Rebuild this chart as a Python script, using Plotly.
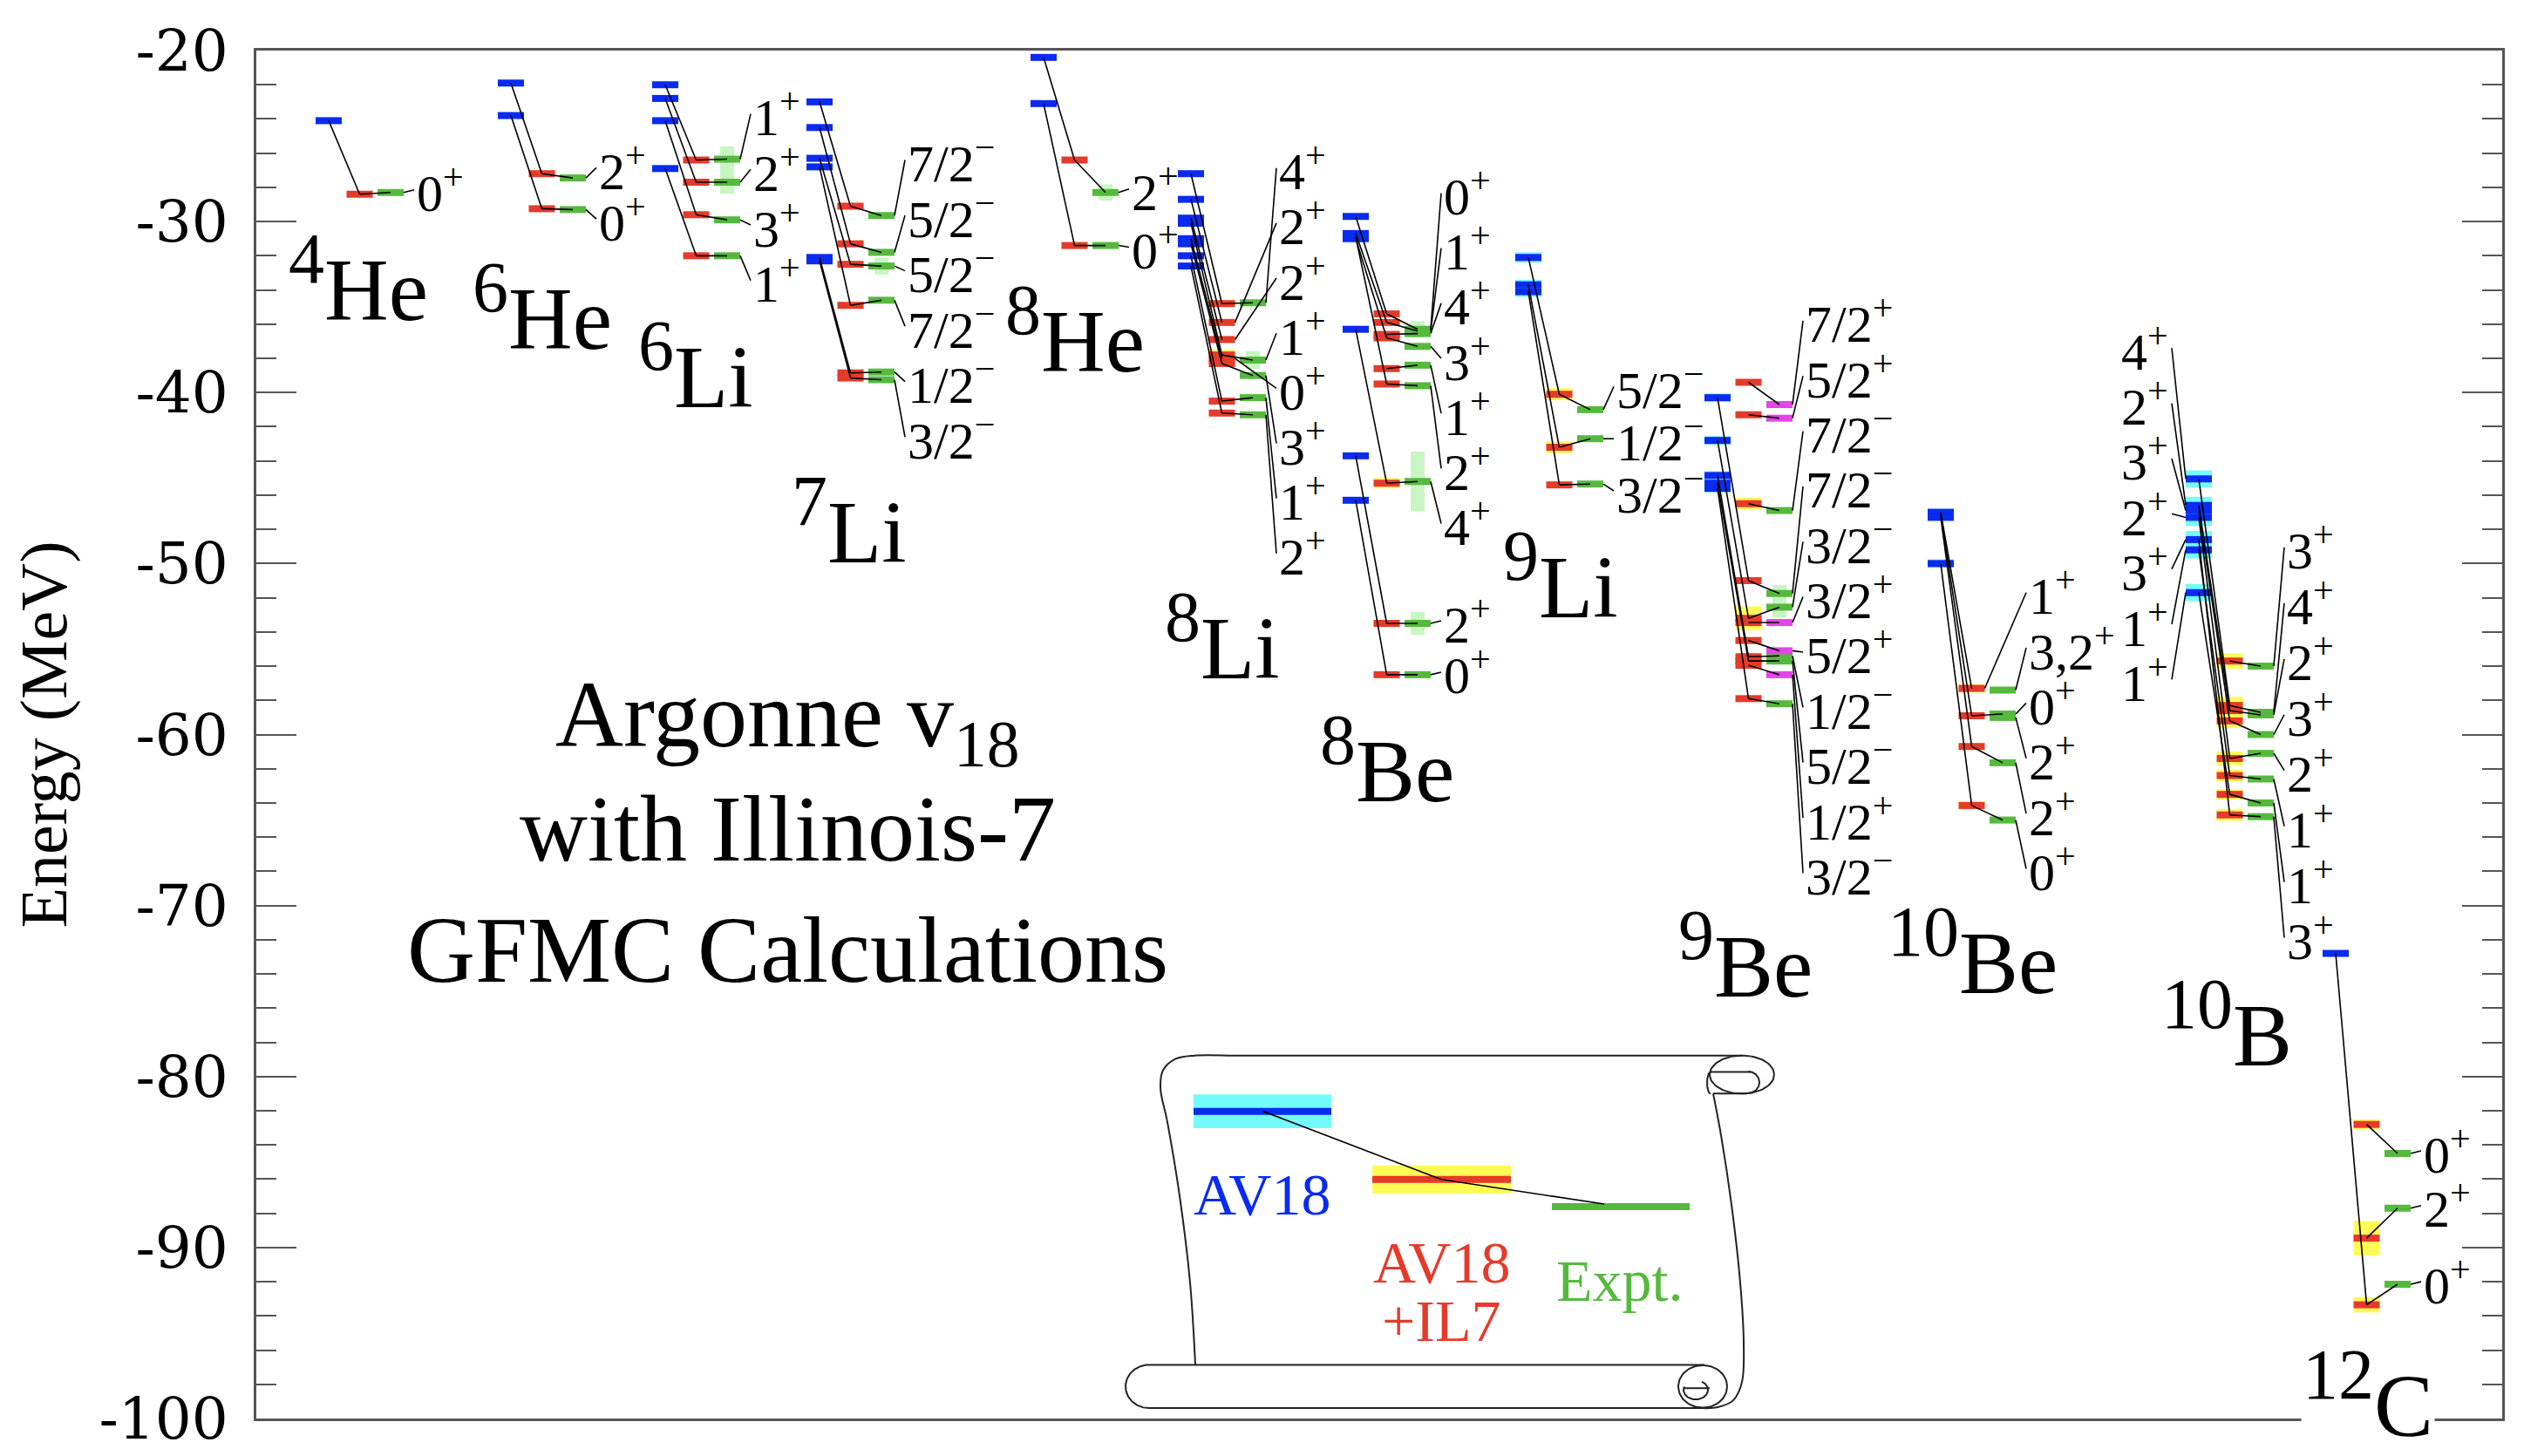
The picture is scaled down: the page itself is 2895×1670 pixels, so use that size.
import plotly.graph_objects as go
import numpy as np

N = None

# ---------------- data ----------------
mass_numbers = ["4", "6", "6", "7", "8", "8", "8", "9", "9", "10", "10", "12"]
elements = ["He", "He", "Li", "Li", "He", "Li", "Be", "Li", "Be", "Be", "B", "C"]

spins = [
    ["0+"],
    ["2+", "0+"],
    ["1+", "2+", "3+", "1+"],
    ["7/2-", "5/2-", "5/2-", "7/2-", "1/2-", "3/2-"],
    ["2+", "0+"],
    ["4+", "2+", "2+", "1+", "0+", "3+", "1+", "2+"],
    ["0+", "1+", "4+", "3+", "1+", "2+", "4+", "2+", "0+"],
    ["5/2-", "1/2-", "3/2-"],
    ["7/2+", "5/2+", "7/2-", "7/2-", "3/2-", "3/2+", "5/2+", "1/2-", "5/2-", "1/2+", "3/2-"],
    ["1+", "3,2+", "0+", "2+", "2+", "0+"],
    ["3+", "4+", "2+", "3+", "2+", "1+", "1+", "3+"],
    ["0+", "2+", "0+"],
]

av18 = [
    [-24.1],
    [-21.9, -23.8],
    [-22.0, -22.8, -24.1, -26.9],
    [-23.0, -24.5, -26.3, -26.8, -32.1, -32.3],
    [-20.4, -23.1],
    [-27.2, -28.7, -29.8, -30.1, -31.0, -31.3, -32.0, -32.6],
    [-29.7, -30.7, N, -31.0, N, -30.9, -36.3, -43.7, -46.3],
    [-32.1, -33.7, -34.1],
    [N, N, N, -40.3, -42.8, N, N, -44.85, -45.3, N, -45.6],
    [-47.0, N, -47.15, N, -47.3, -50.0],
    [N, -45.05, -46.6, -46.9, -47.3, -49.2, -51.7, -48.6],
    [N, N, -72.8],
]
av18_err = [
    [0],
    [0, 0],
    [0, 0, 0, 0],
    [0, 0, 0, 0, 0, 0],
    [0, 0],
    [0.1] * 8,
    [0.1] * 9,
    [0.3, 0.3, 0.3],
    [0, 0, 0, 0.25, 0.25, 0, 0, 0.25, 0.25, 0, 0.25],
    [0.1, 0, 0.1, 0, 0.1, 0.25],
    [0, 0.5, 0.5, 0.5, 0.5, 0.5, 0.5, 0.5],
    [0, 0, 0.12],
]

il7 = [
    [-28.4],
    [-27.2, -29.25],
    [-26.4, -27.7, -29.6, -32.0],
    [-29.1, -31.3, -32.5, -34.9, -38.85, -39.15],
    [-26.4, -31.4],
    [-34.8, -35.9, -36.9, -37.8, -38.0, -38.3, -40.5, -41.2],
    [-35.4, -35.9, -36.6, -36.8, -38.6, -39.5, -45.3, -53.5, -56.5],
    [-40.1, -43.2, -45.4],
    [-39.4, -41.3, -46.5, -51.0, -53.2, -53.45, -54.5, -55.45, -55.7, -55.95, -57.9],
    [-57.3, N, -58.9, N, -60.7, -64.15],
    [-55.7, -58.3, -58.6, -59.2, -61.4, -62.4, -63.5, -64.7],
    [-82.8, -89.45, -93.35],
]
il7_err = [
    [0],
    [0, 0],
    [0, 0, 0, 0],
    [0, 0, 0, 0.2, 0, 0],
    [0.15, 0],
    [0.2, 0, 0, 0.3, 0.3, 0, 0, 0],
    [0.15, 0.15, 0, 0.2, 0, 0, 0.3, 0, 0],
    [0.35, 0.35, 0],
    [0, 0, 0.35, 0, 0.7, 0, 0, 0.2, 0.2, 0, 0],
    [0.25, 0, 0, 0, 0, 0.25],
    [0.45, 0.5, 0.5, 0.4, 0.4, 0.35, 0.3, 0.35],
    [0.3, 1.0, 0.45],
]

expt = [
    [-28.3],
    [-27.45, -29.3],
    [-26.35, -27.7, -29.9, -32.0],
    [-29.65, -31.8, -32.6, -34.6, -38.8, -39.25],
    [-28.3, -31.4],
    [-34.75, N, N, -38.1, N, -39.0, -40.3, -41.3],
    [-36.3, -36.4, -36.55, -37.3, -38.4, -39.6, -45.2, -53.5, -56.5],
    [-41.0, -42.7, -45.35],
    [-40.7, -41.5, -46.9, -51.75, -52.55, -53.45, -55.1, -55.4, -55.7, -56.5, -58.2],
    [N, -57.4, -58.8, -59.0, -61.65, -65.0],
    [-56.0, -58.7, -58.85, -60.0, -61.1, -62.6, -64.0, -64.8],
    [-84.5, -87.7, -92.15],
]
expt_width = [
    [0],
    [0, 0],
    [1.5, 1.35, 0, 0],
    [0, 0, 1.0, 0, 0, 0],
    [0.95, 0],
    [0, 0, 0, 1.05, 0, 0, 0, 0],
    [0.95, 0, 0, 0, 0, 0, 3.5, 1.35, 0],
    [0, 0, 0],
    [0, 0, 0, 1.0, 1.2, 0, 0, 0, 0, 0, 0],
    [0, 0, 0, 0, 0, 0],
    [0, 0, 0, 0, 0, 0, 0, 0],
    [0, 0, 0],
]

y_ticks = [-100, -90, -80, -70, -60, -50, -40, -30, -20]
y_tick_text = ["-100", "-90", "-80", "-70", "-60", "-50", "-40", "-30", "-20"]

# ---------------- layout constants (pixels) ----------------
W, H = 2895, 1670
X0, X1 = 286, 2862
TOP, BOT = 48, 1627
BW = 30.0
RED_OFF, GRN_OFF = 35.5, 71.0
blue_left = [354, 563, 740, 917, 1174, 1343, 1532, 1730, 1947, 2203, 2499, 2656]
label_top = [N, -26.85, -23.7, -26.4, -28.1, -26.87, -28.34, -39.65, -35.8, -51.7, -49.06, N]
label_step = [0, 3.0, 3.25, 3.24, 3.4, 3.22, 3.22, 3.05, 3.23, 3.23, 3.26, 0]
label_stacked = [0, 2, 4, 6, 2, 8, 7, 3, 11, 6, 8, 0]
nuc_label_xy = [(403, 358), (614, 391), (790, 458), (966, 637), (1225, 417), (1394, 771),
                (1583, 913), (1782, 701), (1994, 1139), (2254, 1135), (2546, 1218), (2708, 1646)]

FONT = "Liberation Serif, Times New Roman, serif"
TICKFONT = "DejaVu Serif, serif"
BLUE, RED, GREEN, MAGENTA = "#0A2BF2", "#E63A2A", "#55B93D", "#E445E6"
CYAN, YELLOW, LTGREEN = "#74FBFB", "#FFFB55", "#C8F6C2"


def px2e(py):
    return -20.0 - (py - TOP) * 80.0 / (BOT - TOP)


def fmt_spin(s):
    if s.endswith("+"):
        return s[:-1] + "<sup>+</sup>"
    if s.endswith("-"):
        return s[:-1] + "<sup>\u2212</sup>"
    return s


fig = go.Figure()
shapes = []
annotations = []

bars = {"b": ([], []), "r": ([], []), "g": ([], []), "m": ([], [])}
conn_x, conn_y = [], []


def add_seg(store, xa, xb, ya, yb):
    store[0].extend([xa, xb, None])
    store[1].extend([ya, yb, None])


def band(xa, xb, ya, yb, color):
    shapes.append(dict(type="rect", xref="x", yref="y", x0=xa, x1=xb, y0=ya, y1=yb,
                       fillcolor=color, line=dict(width=0), layer="below"))


for k in range(len(spins)):
    xb = blue_left[k]
    xr = xb + RED_OFF
    xg = xb + GRN_OFF
    n = len(spins[k])
    for i in range(n):
        b, r, g = av18[k][i], il7[k][i], expt[k][i]
        if b is not None:
            if av18_err[k][i] > 0:
                band(xb, xb + BW, b - av18_err[k][i], b + av18_err[k][i], CYAN)
            add_seg(bars["b"], xb, xb + BW, b, b)
        if r is not None:
            if il7_err[k][i] > 0:
                band(xr, xr + BW, r - il7_err[k][i], r + il7_err[k][i], YELLOW)
            add_seg(bars["r"], xr, xr + BW, r, r)
        if g is not None:
            wdt = expt_width[k][i]
            if wdt > 0:
                band(xg + BW / 2 - 8, xg + BW / 2 + 8, g - wdt / 2, g + wdt / 2, LTGREEN)
            col = "m" if (elements[k] == "Be" and mass_numbers[k] == "9" and spins[k][i].endswith("+")) else "g"
            add_seg(bars[col], xg, xg + BW, g, g)
        # connection lines (centre to centre)
        if b is not None and r is not None:
            add_seg((conn_x, conn_y), xb + BW / 2, xr + BW / 2, b, r)
        if r is not None and g is not None:
            add_seg((conn_x, conn_y), xr + BW / 2, xg + BW / 2, r, g)
        # label position
        if i < label_stacked[k]:
            ly = label_top[k] - i * label_step[k]
        else:
            ly = (g if g is not None else r) + 0.15
        if g is not None:
            ex, ey = xg + BW, g
        elif r is not None:
            ex, ey = xr + BW, r
        else:
            ex, ey = xb + BW, b
        add_seg((conn_x, conn_y), ex, xb + 113, ey, ly)
        annotations.append(dict(x=xb + 114, y=ly, xref="x", yref="y", text=fmt_spin(spins[k][i]),
                                xanchor="left", yanchor="middle", showarrow=False,
                                font=dict(family=FONT, size=60, color="black")))

# 10B: AV18 ordering labels on the left of the blue column
kB = 10
pairs = sorted([(av18[kB][i], spins[kB][i]) for i in range(len(spins[kB])) if av18[kB][i] is not None],
               key=lambda t: -t[0])
for j, (val, sp) in enumerate(pairs):
    ly = -37.4 - j * 3.23
    add_seg((conn_x, conn_y), blue_left[kB] - 16, blue_left[kB], ly, val)
    annotations.append(dict(x=blue_left[kB] - 18, y=ly, xref="x", yref="y", text=fmt_spin(sp),
                            xanchor="right", yanchor="middle", showarrow=False,
                            font=dict(family=FONT, size=60, color="black")))

# nucleus labels
for k in range(len(spins)):
    x, yb = nuc_label_xy[k]
    annotations.append(dict(x=x, y=px2e(yb - 46), xref="x", yref="y",
                            text="<sup><span style='font-size:82px'>%s</span></sup>%s" % (mass_numbers[k], elements[k]),
                            xanchor="center", yanchor="middle", showarrow=False,
                            bgcolor="white" if k == len(spins) - 1 else None,
                            font=dict(family=FONT, size=102, color="black")))

# title text block
for txt, yb in [("Argonne v<sub>18</sub>", 858), ("with Illinois-7", 982), ("GFMC Calculations", 1122)]:
    annotations.append(dict(x=895, y=px2e(yb - 36), xref="x", yref="y", text=txt,
                            xanchor="center", yanchor="middle", showarrow=False,
                            font=dict(family=FONT, size=108, color="black")))

# ---------------- legend scroll (decoration) ----------------
scroll_lines = []


def ell(cx, cy, rx, ry, a0, a1, n=80):
    t = np.radians(np.linspace(a0, a1, n))
    return list(cx + rx * np.cos(t)), list(cy + ry * np.sin(t))


# left side + top edge
scroll_lines.append(([1363, 1357, 1345, 1331, 1323, 1326, 1340, 1362, 1400], [1565, 1470, 1370, 1285, 1245, 1225, 1212, 1208, 1208], "spline"))
scroll_lines.append(([1400, 1990], [1208, 1208], "linear"))
# top roll
ex_, ey_ = ell(1990, 1230, 37, 22, 0, 360)
scroll_lines.append((ex_, ey_, "linear"))
scroll_lines.append(([1954, 2000], [1227, 1227], "linear"))
scroll_lines.append(([1957, 1996], [1252, 1252], "linear"))
ex_, ey_ = ell(1997, 1239, 13, 12.5, -90, 90)
scroll_lines.append((ex_, ey_, "linear"))
ex_, ey_ = ell(1954, 1239.5, 4, 12.5, 90, 270)
scroll_lines.append((ex_, ey_, "linear"))
# right side wrapping round bottom roll
scroll_lines.append(([1957, 1966, 1978, 1988, 1992, 1990, 1980, 1962, 1945], [1252, 1300, 1380, 1470, 1540, 1585, 1606, 1614, 1615], "spline"))
# bottom roll
scroll_lines.append(([1310, 1947], [1565, 1565], "linear"))
scroll_lines.append(([1310, 1945], [1615, 1615], "linear"))
ex_, ey_ = ell(1310, 1590, 27, 25, 90, 270)
scroll_lines.append((ex_, ey_, "linear"))
ex_, ey_ = ell(1945, 1590, 28, 24.5, 0, 360)
scroll_lines.append((ex_, ey_, "linear"))
ex_, ey_ = ell(1937, 1594, 14, 11, -60, 200)
scroll_lines.append((ex_, ey_, "linear"))
scroll_lines.append(([1923, 1953], [1592, 1592], "linear"))

for xs, ys, shp in scroll_lines:
    fig.add_trace(go.Scatter(x=xs, y=[px2e(v) for v in ys], mode="lines",
                             line=dict(color="#222", width=2, shape=shp, smoothing=1.0),
                             hoverinfo="skip", showlegend=False))

# legend bars inside the scroll
band(1361, 1519, px2e(1292), px2e(1253), CYAN)
band(1566, 1725, px2e(1367), px2e(1335), YELLOW)
add_seg(bars["b"], 1361, 1519, px2e(1272.5), px2e(1272.5))
add_seg(bars["r"], 1566, 1725, px2e(1351), px2e(1351))
add_seg(bars["g"], 1772, 1930, px2e(1382.5), px2e(1382.5))
conn_x.extend([1441, 1645, 1832, None])
conn_y.extend([px2e(1272.5), px2e(1351), px2e(1379.5), None])
for txt, x, yb, col in [("AV18", 1439, 1390, BLUE), ("AV18", 1645, 1469, RED),
                        ("+IL7", 1645, 1536, RED), ("Expt.", 1849, 1490, GREEN)]:
    annotations.append(dict(x=x, y=px2e(yb - 22), xref="x", yref="y", text=txt,
                            xanchor="center", yanchor="middle", showarrow=False,
                            font=dict(family=FONT, size=68, color=col)))

# ---------------- traces ----------------
colors = {"b": BLUE, "r": RED, "g": GREEN, "m": MAGENTA}
for key in ["b", "r", "g", "m"]:
    xs, ys = bars[key]
    fig.add_trace(go.Scatter(x=xs, y=ys, mode="lines", line=dict(color=colors[key], width=8),
                             hoverinfo="skip", showlegend=False))
fig.add_trace(go.Scatter(x=conn_x, y=conn_y, mode="lines", line=dict(color="black", width=1.6),
                         hoverinfo="skip", showlegend=False))

fig.update_layout(
    width=W, height=H,
    margin=dict(l=X0, r=W - X1, t=TOP, b=H - BOT),
    paper_bgcolor="white", plot_bgcolor="white",
    shapes=shapes, annotations=annotations,
    xaxis=dict(range=[X0, X1], showgrid=False, zeroline=False, showticklabels=False, ticks="",
               showline=True, linecolor="#555", linewidth=3, mirror=True, fixedrange=True),
    yaxis=dict(range=[-100, -20], tickmode="array", tickvals=y_ticks, ticktext=y_tick_text,
               ticks="inside", ticklen=46, tickwidth=2, tickcolor="#555",
               minor=dict(ticks="inside", ticklen=23, tickwidth=2, tickcolor="#555", dtick=2, tick0=-100),
               showline=True, linecolor="#555", linewidth=3, mirror="allticks",
               showgrid=False, zeroline=False, ticklabelstandoff=16,
               tickfont=dict(family=TICKFONT, size=66, color="black"), fixedrange=True,
               title=dict(text="Energy (MeV)", standoff=22,
                          font=dict(family=FONT, size=76, color="black"))),
)

fig.write_html("out.html")
